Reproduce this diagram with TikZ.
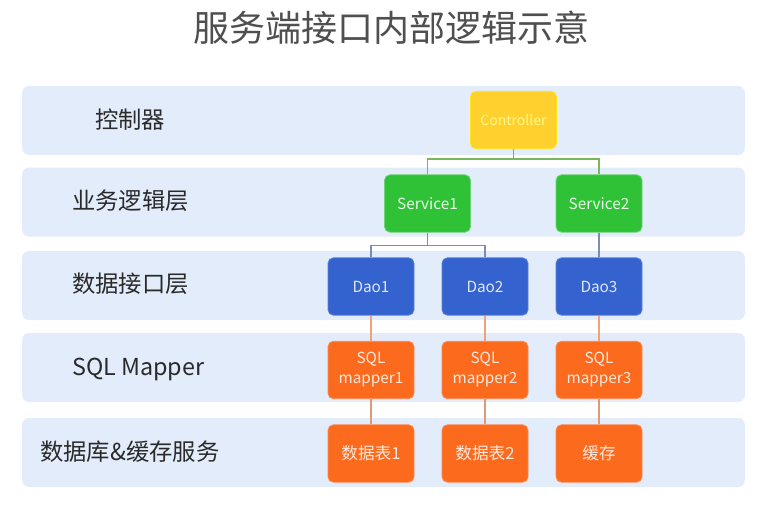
\documentclass[tikz,border=0pt]{standalone}
\usepackage{fontspec}
\setmainfont{Noto Sans CJK SC}
\usepackage{xcolor}
\usepackage{tikz}
\definecolor{bandblue}{HTML}{E2ECFA}
\definecolor{ctrlyellow}{HTML}{FFD02E}
\definecolor{svcgreen}{HTML}{2FC237}
\definecolor{daoblue}{HTML}{3462CF}
\definecolor{sqlorange}{HTML}{FC6A1E}
\definecolor{titlegray}{HTML}{4F4F4F}
\definecolor{labelgray}{HTML}{2A2A2A}
\definecolor{greenlink}{HTML}{78B85A}
\definecolor{bluelink}{HTML}{7A8CB8}
\definecolor{orangelink}{HTML}{F2A277}

\begin{document}
\begin{tikzpicture}[x=0.75pt,y=-0.75pt,
    band/.style={fill=bandblue,rounded corners=5pt,inner sep=0pt,
      minimum width=542pt,minimum height=51.75pt},
    layername/.style={anchor=west,inner sep=0pt,text=labelgray,
      font=\fontsize{17.5}{19}\selectfont},
    box/.style={rounded corners=4pt,inner sep=1pt,minimum width=64.5pt,
      minimum height=43pt,align=center,line width=0.6pt,
      font=\fontsize{11.5}{15}\selectfont},
    link/.style={line width=0.9pt}]
    \useasboundingbox (0,0) rectangle (782,517);
    % title
    \node[text=titlegray,font=\fontsize{27}{30}\selectfont] (title) at (391,28)
      {服务端接口内部逻辑示意};
    % layer bands
    \node[band] (band1) at (383.5,120.5) {};
    \node[band] (band2) at (383.5,202) {};
    \node[band] (band3) at (383.5,285.5) {};
    \node[band] (band4) at (383.5,367.5) {};
    \node[band] (band5) at (383.5,452.5) {};
    \node[layername] (n1) at (95,120) {控制器};
    \node[layername] (n2) at (72,201) {业务逻辑层};
    \node[layername] (n3) at (72,284) {数据接口层};
    \node[layername] (n4) at (72,369) {SQL Mapper};
    \node[layername] (n5) at (40,452) {数据库\&缓存服务};
    % components
    \node[box,fill=ctrlyellow,draw=yellow!70!ctrlyellow,text=yellow!45!white,
      font=\fontsize{10.5}{12}\selectfont] (ctrl) at (513.5,120) {Controller};
    \node[box,fill=svcgreen,draw=svcgreen!70!white,text=white!90!svcgreen] (svc1) at (427.5,203.5) {Service1};
    \node[box,fill=svcgreen,draw=svcgreen!70!white,text=white!90!svcgreen] (svc2) at (599,203.5) {Service2};
    \node[box,fill=daoblue,draw=daoblue!80!white,text=white!85!daoblue] (dao1) at (371,286.5) {Dao1};
    \node[box,fill=daoblue,draw=daoblue!80!white,text=white!85!daoblue] (dao2) at (485,286.5) {Dao2};
    \node[box,fill=daoblue,draw=daoblue!80!white,text=white!85!daoblue] (dao3) at (599,286.5) {Dao3};
    \node[box,fill=sqlorange,draw=sqlorange!80!white,text=white!85!sqlorange] (map1) at (371,370) {SQL\\mapper1};
    \node[box,fill=sqlorange,draw=sqlorange!80!white,text=white!85!sqlorange] (map2) at (485,370) {SQL\\mapper2};
    \node[box,fill=sqlorange,draw=sqlorange!80!white,text=white!85!sqlorange] (map3) at (599,370) {SQL\\mapper3};
    \node[box,fill=sqlorange,draw=sqlorange!80!white,text=white!85!sqlorange,
      font=\fontsize{12.5}{15}\selectfont] (tab1) at (371,453.5) {数据表1};
    \node[box,fill=sqlorange,draw=sqlorange!80!white,text=white!85!sqlorange,
      font=\fontsize{12.5}{15}\selectfont] (tab2) at (485,453.5) {数据表2};
    \node[box,fill=sqlorange,draw=sqlorange!80!white,text=white!85!sqlorange,
      font=\fontsize{12.5}{15}\selectfont] (cache) at (599,453.5) {缓存};
    % connectors
    \draw[link,greenlink] (ctrl.south) -- ++(0,10) -| (svc1.north);
    \draw[link,greenlink] (ctrl.south) -- ++(0,10) -| (svc2.north);
    \draw[link,bluelink] (svc1.south) -- ++(0,13) -| (dao1.north);
    \draw[link,bluelink] (svc1.south) -- ++(0,13) -| (dao2.north);
    \draw[link,bluelink] (svc2.south) -- (dao3.north);
    \draw[link,orangelink] (dao1.south) -- (map1.north);
    \draw[link,orangelink] (dao2.south) -- (map2.north);
    \draw[link,orangelink] (dao3.south) -- (map3.north);
    \draw[link,orangelink!80!gray] (map1.south) -- (tab1.north);
    \draw[link,orangelink!80!gray] (map2.south) -- (tab2.north);
    \draw[link,orangelink!80!gray] (map3.south) -- (cache.north);
  \end{tikzpicture}
\end{document}
